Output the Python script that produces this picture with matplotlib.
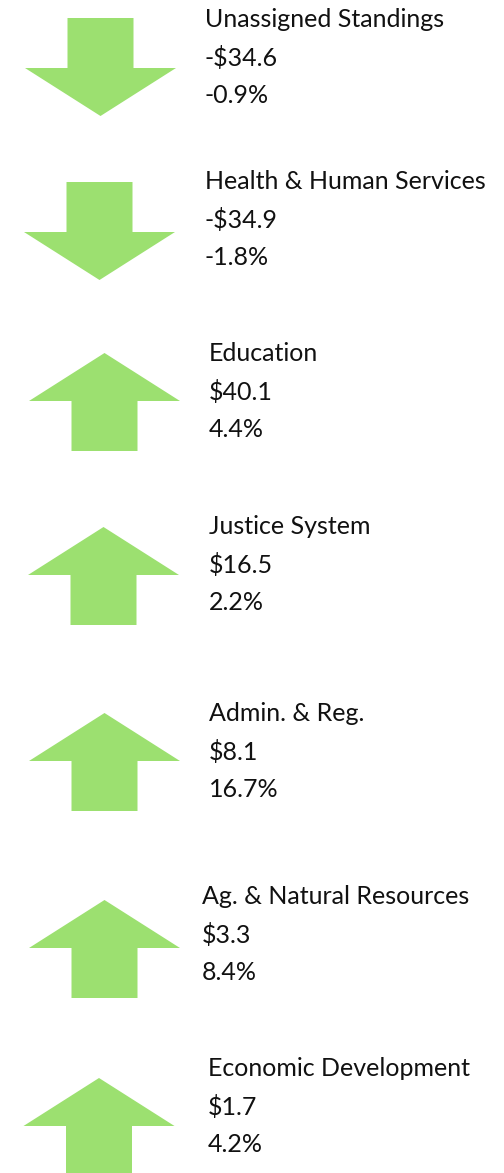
import matplotlib
matplotlib.use("Agg")
import matplotlib.pyplot as plt
from matplotlib.patches import Polygon

# data
categories = ["Unassigned Standings", "Health & Human Services", "Education",
              "Justice System", "Admin. & Reg.", "Ag. & Natural Resources",
              "Economic Development"]
change_amt = [-34.6, -34.9, 40.1, 16.5, 8.1, 3.3, 1.7]      # $ millions
change_pct = [-0.9, -1.8, 4.4, 2.2, 16.7, 8.4, 4.2]         # %

# layout (pixel coords, y down)
arrow_top = [18, 182, 353, 527, 713, 900, 1078]
arrow_cx = [100.5, 99.5, 104.5, 103.5, 104.5, 104.5, 99]
text_x = [205, 205, 209, 209, 209, 202, 208]
text_y = [27, 189, 361, 534, 721, 904, 1076]

GREEN = '#9ce070'
HEAD_W, SHAFT_W = 151, 66
HEAD_H, SHAFT_H = 48, 50

plt.rcParams['font.family'] = ['Lato', 'DejaVu Sans']

fig = plt.figure(figsize=(5.04, 11.73), dpi=100)
ax = fig.add_axes([0, 0, 1, 1])
ax.set_xlim(0, 504)
ax.set_ylim(1173, 0)
ax.axis('off')


def arrow_pts(cx, top, up):
    hw, sw = HEAD_W / 2, SHAFT_W / 2
    if up:
        base = top + HEAD_H
        bot = base + SHAFT_H
        return [(cx, top), (cx + hw, base), (cx + sw, base), (cx + sw, bot),
                (cx - sw, bot), (cx - sw, base), (cx - hw, base)]
    base = top + SHAFT_H
    tip = base + HEAD_H
    return [(cx - sw, top), (cx + sw, top), (cx + sw, base), (cx + hw, base),
            (cx, tip), (cx - hw, base), (cx - sw, base)]


for i, name in enumerate(categories):
    up = change_amt[i] >= 0
    ax.add_patch(Polygon(arrow_pts(arrow_cx[i], arrow_top[i], up), closed=True,
                         facecolor=GREEN, edgecolor='none'))
    amt = ('-$%.1f' % abs(change_amt[i])) if change_amt[i] < 0 else ('$%.1f' % change_amt[i])
    pct = '%.1f%%' % change_pct[i]
    x, y = text_x[i], text_y[i]
    ax.text(x, y, name, fontsize=18, color='#111111', va='baseline', ha='left')
    ax.text(x, y + 39, amt, fontsize=18, color='#111111', va='baseline', ha='left')
    ax.text(x, y + 76, pct, fontsize=18, color='#111111', va='baseline', ha='left')

fig.savefig('out.png', dpi=100)
